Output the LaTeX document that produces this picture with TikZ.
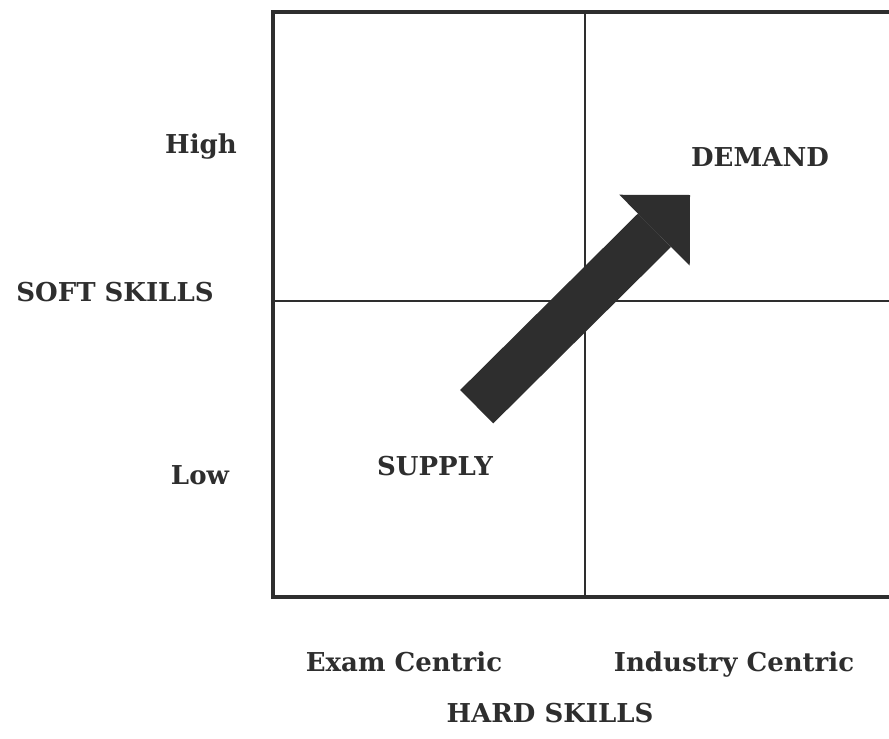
\documentclass[tikz,border=0pt]{standalone}
\usepackage{fontspec}
\setmainfont{DejaVu Serif}
\usetikzlibrary{arrows.meta}

\definecolor{ink}{HTML}{2E2E2E}
\tikzset{
    lbl/.style={text=ink, font=\bfseries\fontsize{26}{29}\selectfont,
        inner sep=0pt, anchor=base},
    frame/.style={draw=ink, line width=4pt},
    divider/.style={draw=ink, line width=1.5pt},
    bigarrow/.style={draw=ink, line width=47pt,
        -{Triangle[length=50pt, width=100pt, line width=0pt]}}
}

\begin{document}
\begin{tikzpicture}[x=1pt, y=-1pt]
    \useasboundingbox (0,0) rectangle (889,739);
    \clip (0,0) rectangle (889,739);
    % the four quadrants (right edge runs off the page)
    \draw[divider] (585,12) -- (585,597);
    \draw[divider] (273,301) -- (897,301);
    \draw[frame] (273,12) rectangle (897,597);

    % axis labels (placed on their baselines)
    \node[lbl] (high)  at (201,153) {High};
    \node[lbl] (soft)  at (115,301) {SOFT SKILLS};
    \node[lbl] (low)   at (200,484) {Low};
    \node[lbl] (exam)  at (404,671) {Exam Centric};
    \node[lbl] (indus) at (734,671) {Industry Centric};
    \node[lbl] (hard)  at (550,722) {HARD SKILLS};

    % quadrant labels
    \node[lbl] (demand) at (760,166) {DEMAND};
    \node[lbl] (supply) at (435,475) {SUPPLY};

    % from supply up to demand
    \coordinate (tail) at (476.7,406.7);
    \coordinate (tip)  at (690,195);
    \draw[bigarrow] (tail) -- (tip);
\end{tikzpicture}
\end{document}
